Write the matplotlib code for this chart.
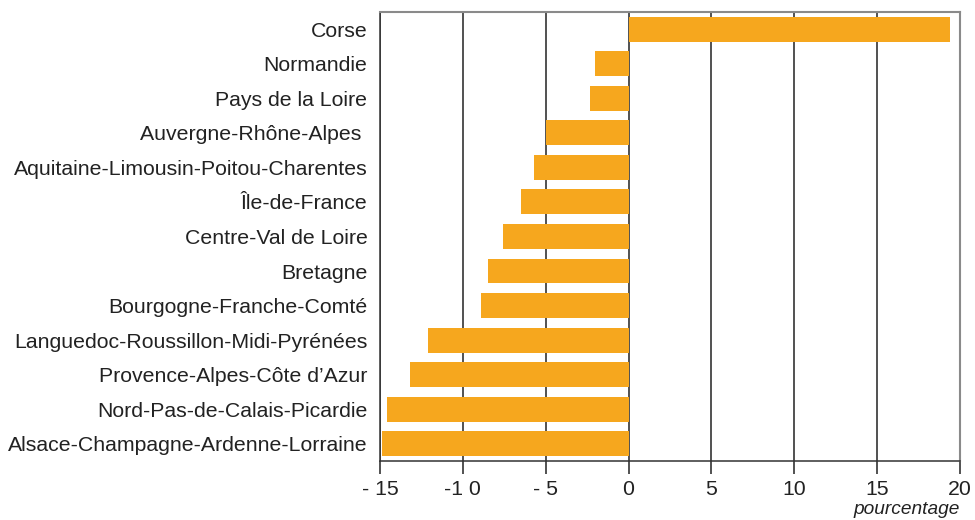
import matplotlib
matplotlib.use("Agg")
import matplotlib.pyplot as plt

regions = [
    "Corse",
    "Normandie",
    "Pays de la Loire",
    "Auvergne-Rhône-Alpes ",
    "Aquitaine-Limousin-Poitou-Charentes",
    "Île-de-France",
    "Centre-Val de Loire",
    "Bretagne",
    "Bourgogne-Franche-Comté",
    "Languedoc-Roussillon-Midi-Pyrénées",
    "Provence-Alpes-Côte d’Azur",
    "Nord-Pas-de-Calais-Picardie",
    "Alsace-Champagne-Ardenne-Lorraine",
]
values = [19.4, -2.0, -2.3, -5.0, -5.7, -6.5, -7.6, -8.5, -8.9, -12.1, -13.2, -14.6, -14.9]
xticks = [-15, -10, -5, 0, 5, 10, 15, 20]
xticklabels = ["- 15", "-1 0", "- 5", "0", "5", "10", "15", "20"]

plt.rcParams["font.family"] = ["Liberation Sans", "DejaVu Sans"]

fig = plt.figure(figsize=(9.75, 5.2), dpi=100)
ax = fig.add_axes([0.3897, 0.1135, 0.5949, 0.8635])

ypos = list(range(len(regions)))
ax.barh(ypos, values, height=0.72, color="#F6A71E", zorder=3)

ax.set_xlim(-15, 20)
ax.set_ylim(len(regions) - 0.5, -0.5)
ax.set_xticks(xticks)
ax.set_xticklabels(xticklabels, fontsize=15.3, color="#222222")
ax.set_yticks(ypos)
ax.set_yticklabels(regions, fontsize=15.3, color="#222222")
ax.tick_params(axis="y", length=0, pad=9)
ax.tick_params(axis="x", length=9, width=1.2, color="#333333", pad=5)

ax.grid(axis="x", color="#222222", linewidth=1.1, zorder=1)
ax.set_axisbelow(True)

for s in ["left", "bottom"]:
    ax.spines[s].set_color("#333333")
    ax.spines[s].set_linewidth(1.1)
for s in ["top", "right"]:
    ax.spines[s].set_color("#8a8a8a")
    ax.spines[s].set_linewidth(1.5)

fig.text(0.9846, 0.012, "pourcentage", ha="right", va="baseline",
         fontsize=13.8, style="italic", color="#222222")

fig.savefig("out.png", dpi=100)
